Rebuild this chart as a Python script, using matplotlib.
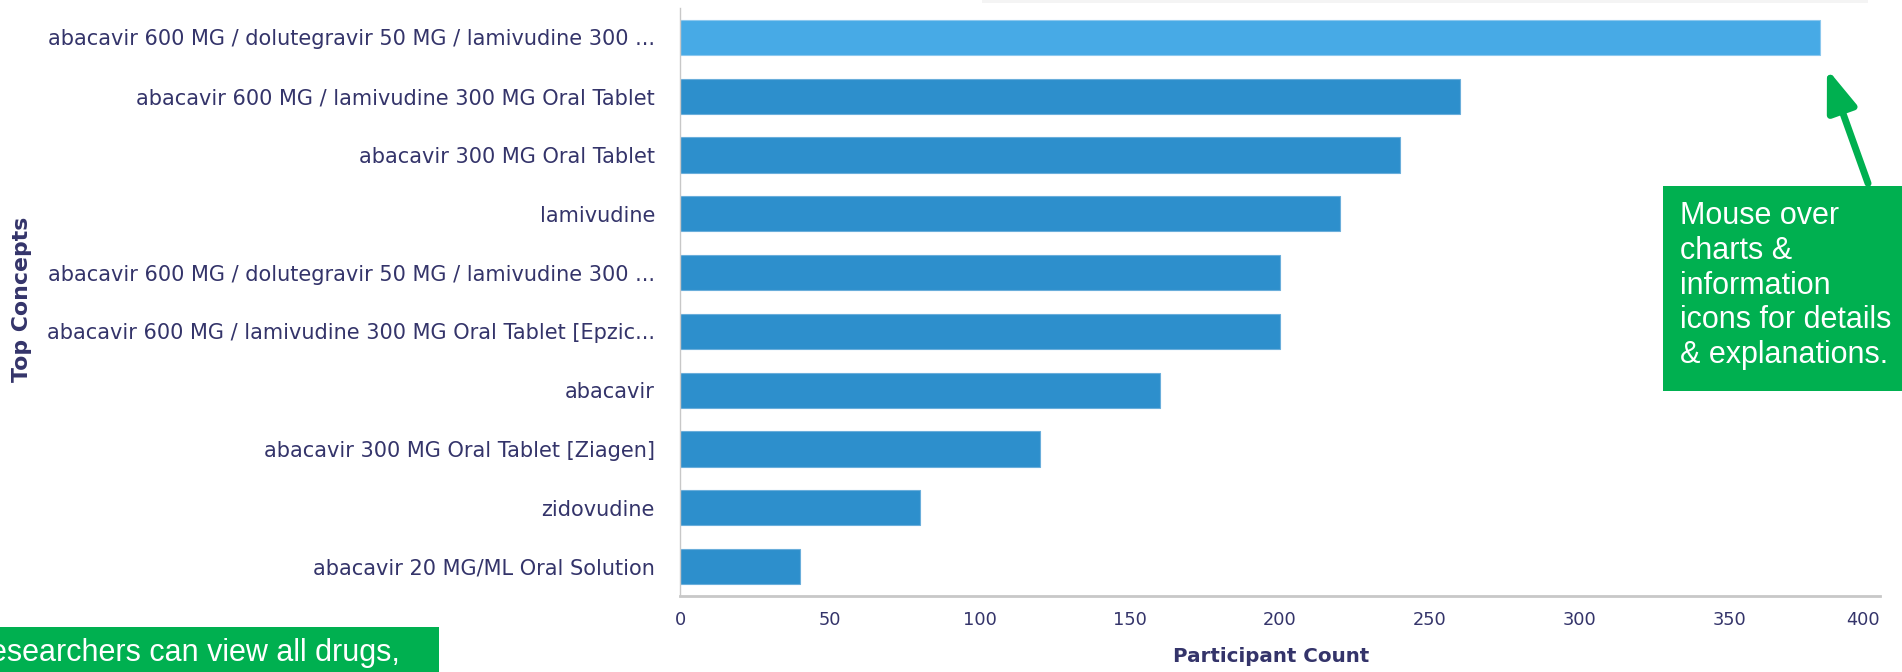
import matplotlib
matplotlib.use("Agg")
import matplotlib.pyplot as plt
from matplotlib.patches import Rectangle, FancyArrowPatch

categories = [
    "abacavir 600 MG / dolutegravir 50 MG / lamivudine 300 ...",
    "abacavir 600 MG / lamivudine 300 MG Oral Tablet",
    "abacavir 300 MG Oral Tablet",
    "lamivudine",
    "abacavir 600 MG / dolutegravir 50 MG / lamivudine 300 ...",
    "abacavir 600 MG / lamivudine 300 MG Oral Tablet [Epzic...",
    "abacavir",
    "abacavir 300 MG Oral Tablet [Ziagen]",
    "zidovudine",
    "abacavir 20 MG/ML Oral Solution",
]
counts = [380, 260, 240, 220, 200, 200, 160, 120, 80, 40]
xticks = [0, 50, 100, 150, 200, 250, 300, 350, 400]

W, H = 1902, 672
fig = plt.figure(figsize=(W / 100, H / 100), dpi=100)
fig.patch.set_facecolor("white")

left, right, top, bottom = 680, 1880, 8, 596
ax = fig.add_axes([left / W, (H - bottom) / H, (right - left) / W, (bottom - top) / H])

text_col = "#34346a"
colors = ["#47aae6"] + ["#2d8fcc"] * (len(counts) - 1)
edges = ["#8cc8ee"] + ["#6aaedb"] * (len(counts) - 1)
ypos = list(range(len(categories)))
ax.barh(ypos, counts, height=0.6, color=colors, edgecolor=edges, linewidth=0.8)

ax.set_xlim(0, 400)
ax.set_ylim(len(categories) - 0.5, -0.5)
ax.set_yticks(ypos)
ax.set_yticklabels(categories, fontsize=15)
ax.set_xticks(xticks)
ax.set_xticklabels([str(t) for t in xticks], fontsize=12.8)
ax.tick_params(axis="both", length=0, colors=text_col)
ax.tick_params(axis="y", pad=18)
ax.tick_params(axis="x", pad=11)
ax.get_xticklabels()[-1].set_horizontalalignment("right")

for s in ["top", "right"]:
    ax.spines[s].set_visible(False)
ax.spines["bottom"].set_color("#c8c8c8")
ax.spines["bottom"].set_linewidth(2)
ax.spines["left"].set_color("#c8c8c8")
ax.spines["left"].set_linewidth(1)

ax.set_xlabel("Participant Count", fontsize=14.3, fontweight="bold", color=text_col)
ax.xaxis.label.set_va("center")
ax.xaxis.set_label_coords(0.493, -(657 - bottom) / (bottom - top))
ax.set_ylabel("Top Concepts", fontsize=15.8, fontweight="bold", color=text_col)
ax.yaxis.label.set_va("center")
ax.yaxis.set_label_coords((22 - left) / (right - left), (bottom - 299) / (bottom - top))

# faint tooltip shadow at top
fig.patches.append(Rectangle((982, H - 3), 886, 3, transform=None,
                             facecolor="#f4f4f4", edgecolor="none"))

green = "#00b050"
# right annotation box
fig.patches.append(Rectangle((1663, H - 391), 260, 205, transform=None,
                             facecolor=green, edgecolor="none"))
fig.text(1680 / W, (H - 201) / H,
         "Mouse over\ncharts &\ninformation\nicons for details\n& explanations.",
         color="white", fontsize=22, family="Liberation Sans",
         ha="left", va="top", linespacing=1.21)

arrow = FancyArrowPatch((1869, H - 186), (1826, H - 66), transform=None,
                        arrowstyle="-|>,head_length=1.8,head_width=0.65",
                        mutation_scale=14, color=green, linewidth=5)
fig.patches.append(arrow)

# bottom-left annotation box (cut off by the canvas, as in the source)
fig.patches.append(Rectangle((0, 0), 439, H - 627, transform=None,
                             facecolor=green, edgecolor="none"))
fig.text(400 / W, 19 / H, "Researchers can view all drugs,", color="white",
         fontsize=22, family="Liberation Sans", ha="right", va="center")

fig.savefig("out.png", dpi=100, facecolor="white")
